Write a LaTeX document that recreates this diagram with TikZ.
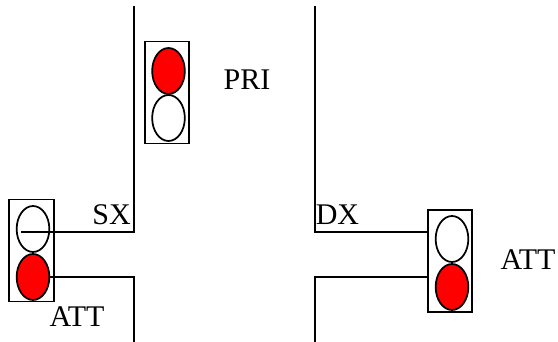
\documentclass[tikz,border=0pt]{standalone}
\usepackage{fontspec}
\setmainfont{Liberation Serif}
\usetikzlibrary{shapes.geometric}
\begin{document}
\begin{tikzpicture}[x=0.75pt,y=-0.75pt,line width=1.3pt] % one unit = one pixel
\tikzstyle{mybox} = [draw, minimum width=33.5pt, minimum height=76.5pt, inner sep=0pt] % traffic light body
\tikzstyle{mylamp} = [draw, ellipse, minimum width=24.5pt, minimum height=34.5pt, inner sep=0pt] % lamp style
\tikzstyle{myred} = [mylamp, fill=red]
\tikzstyle{mylabel} = [font=\fontsize{22.5pt}{22.5pt}\selectfont, inner sep=0pt]
\useasboundingbox (0,0) rectangle (558,342);
% semaforo sinistro
\node[mybox] (boxsx) at (31.5,250.5) {};
\node[mylamp] (offsx) at (33,229) {};
\node[myred] (onsx) at (33,277) {};
% semaforo centrale
\node[mybox] (boxpri) at (167,92.5) {};
\node[myred] (onpri) at (168.5,71) {};
\node[mylamp] (offpri) at (168.5,118) {};
% semaforo destro
\node[mybox] (boxdx) at (450,261) {};
\node[mylamp] (offdx) at (452,239) {};
\node[myred] (ondx) at (452,287) {};
% strada
\coordinate (sxtop) at (134,6);
\coordinate (sxup) at (134,232);
\coordinate (sxstart) at (21,232);
\coordinate (sxlow) at (134,277);
\coordinate (sxend) at (134,342);
\coordinate (dxtop) at (315,6);
\coordinate (dxup) at (315,232);
\coordinate (dxlow) at (315,277);
\coordinate (dxend) at (315,342);
\draw (sxtop) -- (sxup) -- (sxstart);
\draw (onsx.east) -- (sxlow) -- (sxend);
\draw (dxtop) -- (dxup) -- (boxdx.west |- dxup);
\draw (boxdx.west |- dxlow) -- (dxlow) -- (dxend);
% etichette
\node[mylabel] (pri) at (247,80) {PRI};
\node[mylabel] (sx) at (111.5,215) {SX};
\node[mylabel] (attsx) at (77,317) {ATT};
\node[mylabel] (dx) at (337.5,215) {DX};
\node[mylabel] (attdx) at (528,260) {ATT};
\end{tikzpicture}
\end{document}
